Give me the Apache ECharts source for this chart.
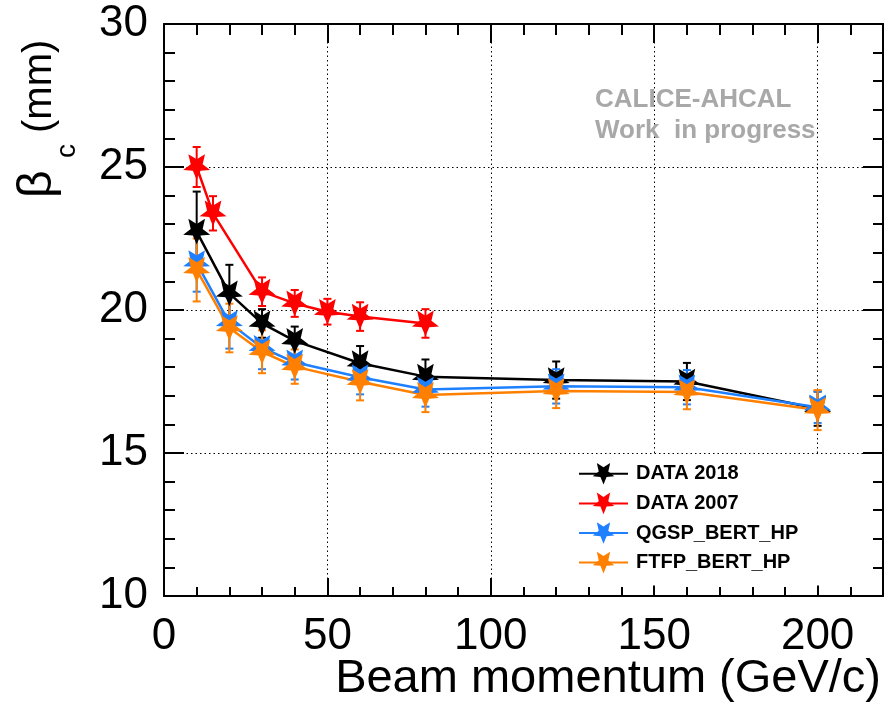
<!DOCTYPE html>
<html>
<head>
<meta charset="utf-8">
<script src="https://cdn.jsdelivr.net/npm/echarts@6/dist/echarts.min.js"></script>
<style>
  html, body { margin: 0; padding: 0; background: #fff; overflow: hidden; }
  #chart { width: 887px; height: 707px; }
</style>
</head>
<body>
<div id="chart"></div>
<script>
// Beam momenta (GeV/c)
const momentum2018 = [10, 20, 30, 40, 60, 80, 120, 160, 200];
const momentum2007 = [10, 15, 30, 40, 50, 60, 80];

// beta_c (mm) and its uncertainty per data set
const beta2018 = [22.74, 20.58, 19.53, 18.92, 18.14, 17.67, 17.55, 17.5, 16.55];
const err2018  = [1.4, 1.0, 0.5, 0.5, 0.6, 0.6, 0.65, 0.65, 0.6];

const beta2007 = [25.0, 23.38, 20.64, 20.23, 19.94, 19.77, 19.53];
const err2007  = [0.7, 0.6, 0.5, 0.47, 0.45, 0.5, 0.5];

const betaQGSP = [21.64, 19.55, 18.68, 18.17, 17.65, 17.22, 17.33, 17.3, 16.6];
const errQGSP  = [1.0, 0.9, 0.75, 0.6, 0.6, 0.6, 0.6, 0.6, 0.55];

const betaFTFP = [21.4, 19.37, 18.54, 18.02, 17.49, 17.03, 17.17, 17.13, 16.5];
const errFTFP  = [1.1, 0.85, 0.75, 0.6, 0.65, 0.6, 0.6, 0.6, 0.7];

const seriesNames = ['DATA 2018', 'DATA 2007', 'QGSP_BERT_HP', 'FTFP_BERT_HP'];
const seriesColors = ['#000000', '#ff0000', '#1f80ff', '#ff8000'];

// Axis ranges and tick spacing
const xRange = [0, 220];
const yRange = [10, 30];
const xMajor = 50, xMinor = 10;
const yMajor = 5, yMinor = 1;

// Inverted five-pointed star marker
const starPath = 'path://M100,55 L158.8,19.1 L142,91 L195.1,130.9 L127,136 L100,200 L73,136 L4.9,130.9 L58,91 L41.2,19.1 Z';

const FONT = "'Liberation Sans', Arial, Helvetica, sans-serif";
const NARROW = "'Liberation Sans Narrow', 'Liberation Sans', Arial, sans-serif";

function errorBars(color) {
  return function (params, api) {
    const x = api.value(0), y = api.value(1), e = api.value(2);
    const top = api.coord([x, y + e]);
    const bot = api.coord([x, y - e]);
    const hw = 4;
    const st = { stroke: color, lineWidth: 2 };
    return {
      type: 'group',
      children: [
        { type: 'line', shape: { x1: top[0], y1: top[1], x2: bot[0], y2: bot[1] }, style: st },
        { type: 'line', shape: { x1: top[0] - hw, y1: top[1], x2: top[0] + hw, y2: top[1] }, style: st },
        { type: 'line', shape: { x1: bot[0] - hw, y1: bot[1], x2: bot[0] + hw, y2: bot[1] }, style: st }
      ]
    };
  };
}

function makeSeries(name, color, xs, ys, es) {
  return [
    { name: name + ' err', type: 'custom', xAxisIndex: 0, yAxisIndex: 0, renderItem: errorBars(color),
      data: xs.map((x, i) => [x, ys[i], es[i]]), silent: true },
    { name: name, type: 'line', xAxisIndex: 0, yAxisIndex: 0, data: xs.map((x, i) => [x, ys[i]]),
      symbol: starPath, symbolSize: 27, symbolKeepAspect: true, showAllSymbol: true,
      lineStyle: { color: color, width: 2.5 }, itemStyle: { color: color },
      emphasis: { disabled: true }, animation: false }
  ];
}

const frameLine = { show: true, onZero: false, lineStyle: { color: '#000', width: 2 } };
const noLine = { show: false, onZero: false };

// Tick-only axis that puts major or minor tick marks on one side of the frame
function tickAxis(position, range, interval, len, withLine) {
  return {
    type: 'value', position: position, offset: 0, min: range[0], max: range[1], interval: interval,
    axisLine: withLine ? frameLine : noLine,
    axisTick: { show: true, inside: true, length: len, lineStyle: { color: '#000', width: 2 } },
    axisLabel: { show: false },
    splitLine: { show: false }
  };
}

const dotted = { show: true, lineStyle: { color: '#000', width: 1, type: [1.5, 3] } };

const option = {
  backgroundColor: '#fff',
  animation: false,
  grid: { left: 164, right: 4, top: 24, bottom: 111, containLabel: false },
  legend: {
    data: seriesNames, orient: 'vertical', left: 570, top: 455, padding: [8, 43, 12, 8],
    itemWidth: 49, itemHeight: 27, itemGap: 8, backgroundColor: '#fff',
    textStyle: { fontFamily: FONT, fontSize: 20, fontWeight: 'bold', color: '#000', padding: [0, 0, 0, 3] },
    selectedMode: false
  },
  xAxis: [
    {
      type: 'value', position: 'bottom', offset: 0, min: xRange[0], max: xRange[1], interval: xMajor,
      axisLine: frameLine,
      axisTick: { show: true, inside: true, length: 18, lineStyle: { color: '#000', width: 2 } },
      axisLabel: { show: true, margin: 19, color: '#000', fontSize: 44, fontFamily: NARROW,
        formatter: v => (v % xMajor === 0 ? String(v) : '') },
      splitLine: dotted
    },
    tickAxis('bottom', xRange, xMinor, 9, false),
    tickAxis('top', xRange, xMajor, 19, true),
    tickAxis('top', xRange, xMinor, 11, false)
  ],
  yAxis: [
    {
      type: 'value', position: 'left', offset: 0, min: yRange[0], max: yRange[1], interval: yMajor,
      axisLine: frameLine,
      axisTick: { show: true, inside: true, length: 20, lineStyle: { color: '#000', width: 2 } },
      axisLabel: { show: true, margin: 16, color: '#000', fontSize: 44, fontFamily: NARROW },
      splitLine: dotted
    },
    tickAxis('left', yRange, yMinor, 11, false),
    tickAxis('right', yRange, yMajor, 20, true),
    tickAxis('right', yRange, yMinor, 10, false)
  ],
  graphic: [
    { type: 'text', x: 881, y: 679, z: 10,
      style: { text: 'Beam momentum (GeV/c)', fontFamily: FONT, fontSize: 47, fill: '#000', align: 'right', verticalAlign: 'middle' } },
    { type: 'group', x: 0, y: 198, rotation: Math.PI / 2, z: 10,
      children: [
        { type: 'text', x: 0, y: 38, style: { text: 'β', fontFamily: FONT, fontSize: 48, fill: '#000', align: 'left', verticalAlign: 'middle' } },
        { type: 'text', x: 40, y: 67, style: { text: 'c', fontFamily: FONT, fontSize: 28, fill: '#000', align: 'left', verticalAlign: 'middle' } },
        { type: 'text', x: 65, y: 40, style: { text: '(mm)', fontFamily: FONT, fontSize: 40, fill: '#000', align: 'left', verticalAlign: 'middle' } }
      ] },
    { type: 'text', x: 595, y: 100, z: 10,
      style: { text: 'CALICE-AHCAL', fontFamily: FONT, fontSize: 26, fontWeight: 'bold', fill: '#a8a8a8', align: 'left', verticalAlign: 'middle' } },
    { type: 'text', x: 595, y: 131, z: 10,
      style: { text: 'Work  in progress', fontFamily: FONT, fontSize: 26, fontWeight: 'bold', fill: '#a8a8a8', align: 'left', verticalAlign: 'middle' } }
  ],
  series: [].concat(
    makeSeries(seriesNames[0], seriesColors[0], momentum2018, beta2018, err2018),
    makeSeries(seriesNames[1], seriesColors[1], momentum2007, beta2007, err2007),
    makeSeries(seriesNames[2], seriesColors[2], momentum2018, betaQGSP, errQGSP),
    makeSeries(seriesNames[3], seriesColors[3], momentum2018, betaFTFP, errFTFP)
  )
};

const chart = echarts.init(document.getElementById('chart'), null, { renderer: 'canvas' });
chart.setOption(option);
</script>
</body>
</html>
